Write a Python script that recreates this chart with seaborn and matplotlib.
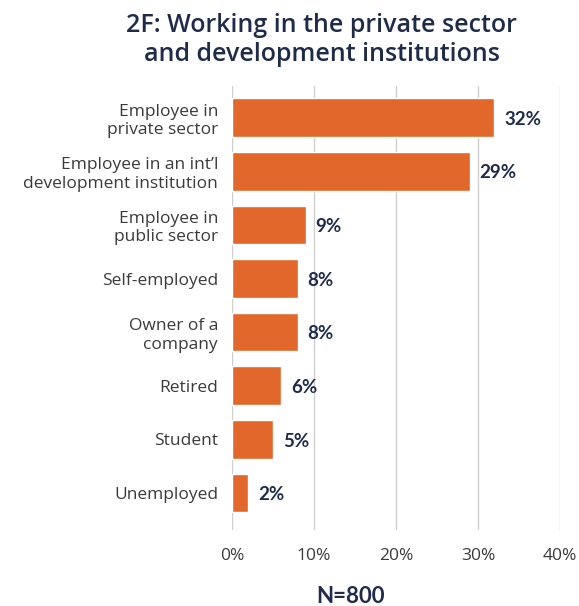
import numpy as np
import pandas as pd

import matplotlib
matplotlib.use('Agg')

import matplotlib.pyplot as plt
from matplotlib.ticker import PercentFormatter

import seaborn as sns

categories = ['Employee in\nprivate sector',
              'Employee in an int\u2019l\ndevelopment institution',
              'Employee in\npublic sector',
              'Self-employed',
              'Owner of a\ncompany',
              'Retired',
              'Student',
              'Unemployed']
shares = [32, 29, 9, 8, 8, 6, 5, 2]
x_ticks = [0, 10, 20, 30, 40]

title = '2F: Working in the private sector\nand development institutions'
note = 'N=800'

bar_color = '#E1682A'
navy = '#1E2B4A'
grey_text = '#3A3A3A'

df = pd.DataFrame({'category': categories, 'share': shares})

sns.set_theme(style='white')
plt.rcParams['font.family'] = ['Open Sans', 'DejaVu Sans']

fig = plt.figure(figsize=(5.79, 6.06), dpi=100)
ax = fig.add_axes([0.4007, 0.1254, 0.5665, 0.7326])

sns.barplot(data=df, x='share', y='category', color=bar_color, width=0.72,
            saturation=1, ax=ax, zorder=3)

for i, v in enumerate(shares):
    ax.text(v + 1.2, i + 0.03, f'{v}%', va='center', ha='left', fontsize=13.5,
            fontweight='bold', color=navy, family=['Lato', 'DejaVu Sans'])

ax.set_xlim(0, 40)
ax.set_ylim(7.69, -0.59)
ax.set_xticks(x_ticks)
ax.xaxis.set_major_formatter(PercentFormatter(decimals=0))
ax.grid(axis='x', color='#CFCFCF', linewidth=1, zorder=0)
for s in ax.spines.values():
    s.set_visible(False)
ax.tick_params(axis='x', length=0, pad=13, labelsize=12.5, labelcolor=grey_text)
ax.tick_params(axis='y', length=0, pad=10, labelsize=12.5, labelcolor=grey_text)
ax.set_xlabel('')
ax.set_ylabel('')
for lbl in ax.get_yticklabels():
    lbl.set_multialignment('right')
    lbl.set_linespacing(1.2)

fig.text(0.556, 0.934, title, ha='center', va='center', fontsize=18,
         fontweight='semibold', color=navy, linespacing=1.2)
fig.text(0.606, 0.016, note, ha='center', va='center', fontsize=16,
         fontweight='bold', color=navy, family=['Lato', 'DejaVu Sans'])

plt.savefig('out.png', dpi=100)
plt.close()
